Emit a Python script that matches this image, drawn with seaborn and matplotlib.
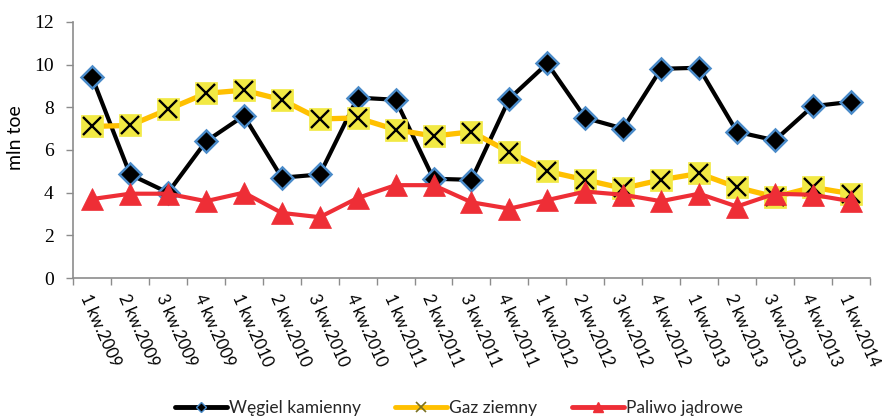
import matplotlib
matplotlib.use("Agg")
import matplotlib.pyplot as plt
from matplotlib.lines import Line2D
from matplotlib.ticker import FixedLocator, MultipleLocator
import numpy as np
import pandas as pd
import seaborn as sns

# Quarterly data (mln toe)
quarters = [
    "1 kw.2009", "2 kw.2009", "3 kw.2009", "4 kw.2009",
    "1 kw.2010", "2 kw.2010", "3 kw.2010", "4 kw.2010",
    "1 kw.2011", "2 kw.2011", "3 kw.2011", "4 kw.2011",
    "1 kw.2012", "2 kw.2012", "3 kw.2012", "4 kw.2012",
    "1 kw.2013", "2 kw.2013", "3 kw.2013", "4 kw.2013",
    "1 kw.2014",
]
wegiel = [9.4, 4.85, 4.0, 6.4, 7.6, 4.7, 4.85, 8.45, 8.35, 4.65, 4.6,
          8.4, 10.05, 7.5, 7.0, 9.8, 9.85, 6.85, 6.45, 8.05, 8.25]
gaz = [7.1, 7.15, 7.9, 8.65, 8.8, 8.35, 7.45, 7.5, 6.95, 6.65, 6.85,
       5.9, 5.0, 4.6, 4.2, 4.6, 4.9, 4.25, 3.8, 4.25, 3.95]
paliwo = [3.7, 3.95, 3.95, 3.6, 4.0, 3.05, 2.85, 3.75, 4.35, 4.35, 3.55,
          3.25, 3.65, 4.05, 3.9, 3.6, 3.95, 3.35, 3.95, 3.9, 3.6]
series_names = ["Węgiel kamienny", "Gaz ziemny", "Paliwo jądrowe"]

df = pd.DataFrame({
    "idx": np.arange(len(quarters)),
    series_names[0]: wegiel,
    series_names[1]: gaz,
    series_names[2]: paliwo,
})

sns.set_theme(style="white")
plt.rcParams["font.family"] = ["Lato", "DejaVu Sans"]

fig = plt.figure(figsize=(8.82, 4.2), dpi=100)
ax = fig.add_axes([0.083, 0.338, 0.903, 0.61])

BLACK = "#000000"
EDGE_BLUE = "#4A8BC9"
GOLD = "#FFC000"
YELLOW = "#F2E944"
RED = "#EE2E36"

# Węgiel kamienny: black line, black diamonds with blue rim
sns.lineplot(data=df, x="idx", y=series_names[0], ax=ax, color=BLACK, lw=3.0,
             marker="D", markersize=11, markerfacecolor=BLACK,
             markeredgecolor=EDGE_BLUE, markeredgewidth=1.8, zorder=3)

# Gaz ziemny: gold line, yellow squares crossed with black x
sns.lineplot(data=df, x="idx", y=series_names[1], ax=ax, color=GOLD, lw=3.8,
             marker="s", markersize=15.5, markerfacecolor=YELLOW,
             markeredgecolor=YELLOW, markeredgewidth=0.5, zorder=4)
sns.lineplot(data=df, x="idx", y=series_names[1], ax=ax, color=BLACK, lw=0,
             marker="x", markersize=13.5, markeredgecolor=BLACK,
             markeredgewidth=1.7, zorder=5)

# Paliwo jądrowe: red line, red triangles
sns.lineplot(data=df, x="idx", y=series_names[2], ax=ax, color=RED, lw=3.0,
             marker="^", markersize=16.5, markerfacecolor=RED,
             markeredgecolor=RED, markeredgewidth=0.5, zorder=6)

ax.set_xlim(-0.5, len(quarters) - 0.5)
ax.set_ylim(0, 12)
ax.yaxis.set_major_locator(MultipleLocator(2))

# Category labels at the points, tick marks on the category boundaries
ax.set_xticks(np.arange(len(quarters)))
ax.set_xticklabels(quarters, rotation=-66, ha="left", va="top",
                   rotation_mode="anchor", fontsize=12, color="#000000")
ax.xaxis.set_minor_locator(FixedLocator(np.arange(len(quarters) + 1) - 0.5))
ax.tick_params(axis="x", which="major", length=0, pad=10)
ax.tick_params(axis="x", which="minor", length=5, width=1, color="#8C8C8C",
               direction="out", bottom=True)
ax.tick_params(axis="y", length=5, width=1, color="#8C8C8C", direction="out",
               left=True, pad=9)
for lab in ax.get_yticklabels():
    lab.set_fontfamily(["Liberation Serif", "DejaVu Serif"])
    lab.set_fontsize(14)
    lab.set_color("#000000")

ax.set_xlabel("")
ax.set_ylabel("mln toe", fontsize=14, color="#000000")
ax.yaxis.set_label_coords(-0.062, 0.55)

for side in ["top", "right"]:
    ax.spines[side].set_visible(False)
for side in ["left", "bottom"]:
    ax.spines[side].set_color("#8C8C8C")
    ax.spines[side].set_linewidth(1.2)

if ax.get_legend() is not None:
    ax.get_legend().remove()

handles = [
    Line2D([], [], color=BLACK, lw=3.5, marker="D", markersize=5,
           markerfacecolor=BLACK, markeredgecolor=EDGE_BLUE, markeredgewidth=1),
    Line2D([], [], color=GOLD, lw=3.5, marker="x", markersize=7,
           markeredgecolor="#7A7020", markeredgewidth=1.2),
    Line2D([], [], color=RED, lw=3.5, marker="^", markersize=7,
           markerfacecolor=RED, markeredgecolor=RED),
]
fig.legend(handles, series_names, loc="center", bbox_to_anchor=(0.52, 0.028),
           ncol=3, frameon=False, handlelength=3.0, handletextpad=0.1,
           columnspacing=2.0, fontsize=12.5)

fig.savefig("out.png", dpi=100)
